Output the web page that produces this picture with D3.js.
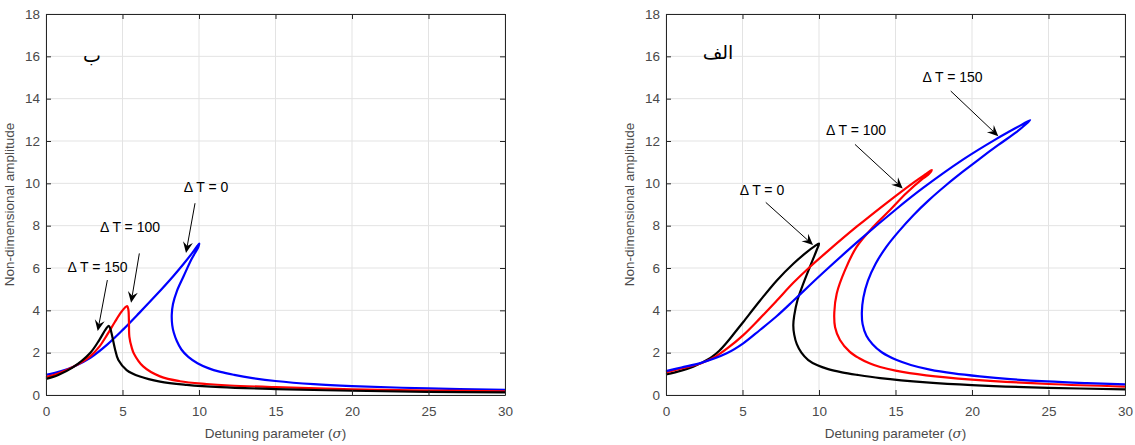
<!DOCTYPE html>
<html>
<head>
<meta charset="utf-8">
<script src="https://cdn.jsdelivr.net/npm/d3@7"></script>
<style>
  body { margin: 0; background: #fff; }
  svg { display: block; }
</style>
</head>
<body>
<script>
var width = 1135;
var height = 445;

var xTicks = [0, 5, 10, 15, 20, 25, 30];
var yTicks = [0, 2, 4, 6, 8, 10, 12, 14, 16, 18];

// panel "ب" (left) : [sigma, amplitude]
var leftDT0 = [[0,0.95],[1,1.13],[1.8,1.34],[2.9,1.76],[4.0,2.38],[5.05,3.1],[6.1,3.88],[7.2,4.72],[8.3,5.6],[9.0,6.2],[9.6,6.75],[9.9,7.05],[10.02,7.15],[9.95,6.98],[9.5,6.4],[9.0,5.62],[8.55,4.9],[8.3,4.3],[8.22,3.8],[8.25,3.3],[8.35,2.95],[8.55,2.55],[8.85,2.15],[9.3,1.8],[9.9,1.5],[10.6,1.27],[11.4,1.09],[12.3,0.95],[13.5,0.8],[15,0.66],[17.5,0.51],[20,0.42],[25,0.31],[30,0.24]];
var leftDT100 = [[0,0.85],[0.8,1.02],[1.7,1.3],[2.9,1.84],[3.5,2.3],[4.0,2.85],[4.5,3.45],[4.9,3.9],[5.15,4.12],[5.3,4.2],[5.38,4.05],[5.42,3.5],[5.45,2.75],[5.6,2.25],[5.75,1.95],[6.35,1.35],[7.45,0.88],[8.75,0.65],[10.5,0.52],[12,0.45],[15,0.37],[20,0.27],[25,0.21],[30,0.17]];
var leftDT150 = [[0,0.76],[0.8,0.95],[1.7,1.28],[2.9,2.0],[3.5,2.62],[3.9,3.1],[4.1,3.27],[4.2,3.15],[4.35,2.7],[4.5,2.2],[4.73,1.65],[5.27,1.18],[6.14,0.87],[7.45,0.63],[9.2,0.48],[11.4,0.37],[15,0.28],[20,0.2],[25,0.15],[30,0.12]];

// panel "الف" (right)
var rightDT0 = [[0,0.97],[1,1.15],[1.78,1.34],[2.35,1.53],[3,1.8],[3.5,2.1],[4,2.5],[4.5,2.95],[5.05,3.45],[6.14,4.45],[7.23,5.4],[8.32,6.2],[9.2,6.75],[9.7,7.02],[10,7.15],[9.85,6.85],[9.41,6.06],[8.98,5.27],[8.6,4.5],[8.38,3.75],[8.32,3.3],[8.38,2.85],[8.55,2.4],[8.85,2.0],[9.3,1.65],[9.9,1.4],[10.6,1.22],[11.5,1.07],[12.5,0.95],[14,0.8],[17,0.6],[20,0.47],[25,0.34],[30,0.27]];
var rightDT100 = [[0,1.07],[1,1.25],[2.3,1.5],[3.2,1.8],[4,2.2],[5.05,2.83],[6.14,3.62],[7.23,4.45],[8.32,5.3],[9.4,6.05],[10.5,6.75],[12.46,7.95],[14.64,9.2],[16.2,10.05],[17.0,10.45],[17.37,10.63],[17.2,10.45],[16.8,10.23],[15.7,9.53],[14.64,8.74],[13.55,7.95],[12.46,7.0],[11.7,5.9],[11.16,4.8],[11.0,3.9],[11.05,3.2],[11.37,2.6],[12.0,2.05],[12.6,1.75],[13.3,1.5],[14,1.32],[15,1.15],[17,0.93],[20,0.73],[25,0.52],[30,0.4]];
var rightDT150 = [[0,1.13],[1,1.3],[2.3,1.52],[3.97,1.97],[5.05,2.44],[6.14,3.07],[7.23,3.72],[8.32,4.45],[9.41,5.2],[10.5,5.93],[12.7,7.35],[15.08,8.8],[16.8,9.78],[19.43,11.13],[21.6,12.1],[23.2,12.75],[23.8,12.99],[23.5,12.78],[22.9,12.42],[21.7,11.8],[20.5,11.16],[19.4,10.55],[18.3,9.91],[17.2,9.22],[16.2,8.52],[15.2,7.72],[14.4,7.0],[13.7,6.2],[13.2,5.4],[12.9,4.6],[12.8,3.9],[12.85,3.35],[13.1,2.8],[13.5,2.4],[14.1,2.02],[15.08,1.65],[16,1.42],[17.25,1.2],[18.8,1.02],[20.5,0.88],[22.5,0.75],[24.9,0.64],[27.5,0.56],[30,0.5]];

// annotations: label, text point, arrow start, arrow tip (data units)
var leftNotes = [
  {label: "\u0394 T = 0",   at: [10.46, 9.83], from: [9.74, 9.06], to: [9.15, 6.71]},
  {label: "\u0394 T = 100", at: [5.49, 7.94],  from: [6.10, 6.69], to: [5.56, 4.36]},
  {label: "\u0394 T = 150", at: [3.37, 6.05],  from: [4.01, 5.43], to: [3.38, 3.02]}
];
var rightNotes = [
  {label: "\u0394 T = 0",   at: [6.27, 9.68],   from: [6.52, 9.10],   to: [9.61, 7.09]},
  {label: "\u0394 T = 100", at: [12.42, 12.52], from: [12.35, 11.84], to: [15.47, 9.76]},
  {label: "\u0394 T = 150", at: [18.73, 15.02], from: [18.61, 14.36], to: [21.72, 12.23]}
];

var panels = [
  {left: 46,  tag: "\u0628", tagAt: [3.0, 16.06],
   series: [{d: leftDT0, c: "#0000ff"}, {d: leftDT100, c: "#ff0000"}, {d: leftDT150, c: "#000000"}],
   notes: leftNotes},
  {left: 666, tag: "\u0627\u0644\u0641", tagAt: [3.4, 16.2],
   series: [{d: rightDT0, c: "#000000"}, {d: rightDT100, c: "#ff0000"}, {d: rightDT150, c: "#0000ff"}],
   notes: rightNotes}
];

var plotW = 459, plotH = 381, plotTop = 14;
var axisColor = "#262626";
var font = "Arial, 'Liberation Sans', Helvetica, sans-serif";

var svg = d3.select("body").append("svg")
  .attr("width", width)
  .attr("height", height);

panels.forEach(function(p) {
  var x = d3.scaleLinear().domain([0, 30]).range([0, plotW]);
  var y = d3.scaleLinear().domain([0, 18]).range([plotH, 0]);

  var g = svg.append("g").attr("transform", "translate(" + p.left + "," + plotTop + ")");

  // grid
  g.append("g").selectAll("line").data(xTicks).enter().append("line")
    .attr("x1", function(d) { return x(d); }).attr("x2", function(d) { return x(d); })
    .attr("y1", 0).attr("y2", plotH)
    .attr("stroke", "#e3e3e3").attr("stroke-width", 1);
  g.append("g").selectAll("line").data(yTicks).enter().append("line")
    .attr("y1", function(d) { return y(d); }).attr("y2", function(d) { return y(d); })
    .attr("x1", 0).attr("x2", plotW)
    .attr("stroke", "#e3e3e3").attr("stroke-width", 1);

  // curves
  var line = d3.line()
    .x(function(d) { return x(d[0]); })
    .y(function(d) { return y(d[1]); })
    .curve(d3.curveCatmullRom.alpha(0.5));

  g.append("g").selectAll("path").data(p.series).enter().append("path")
    .attr("d", function(s) { return line(s.d); })
    .attr("fill", "none")
    .attr("stroke", function(s) { return s.c; })
    .attr("stroke-width", 2.2)
    .attr("stroke-linejoin", "round");

  // axes (box with inward ticks)
  var xAxis = g.append("g").attr("transform", "translate(0," + plotH + ")")
    .call(d3.axisBottom(x).tickValues(xTicks).tickSize(-5).tickSizeOuter(0).tickPadding(11));
  var yAxis = g.append("g")
    .call(d3.axisLeft(y).tickValues(yTicks).tickSize(-5).tickSizeOuter(0).tickPadding(6));
  var tAxis = g.append("g")
    .call(d3.axisTop(x).tickValues(xTicks).tickSize(-5).tickSizeOuter(0).tickFormat(""));
  var rAxis = g.append("g").attr("transform", "translate(" + plotW + ",0)")
    .call(d3.axisRight(y).tickValues(yTicks).tickSize(-5).tickSizeOuter(0).tickFormat(""));

  [xAxis, yAxis, tAxis, rAxis].forEach(function(a) {
    a.selectAll("path.domain").attr("stroke", axisColor);
    a.selectAll(".tick line").attr("stroke", axisColor);
    a.selectAll(".tick text").attr("fill", "#4a4a4a")
      .style("font-family", font).style("font-size", "13.5px");
  });

  // axis labels
  var xl = g.append("text")
    .attr("x", plotW / 2).attr("y", plotH + 43)
    .attr("text-anchor", "middle")
    .attr("fill", "#4a4a4a")
    .style("font-family", font).style("font-size", "13.5px");
  xl.append("tspan").text("Detuning parameter (");
  xl.append("tspan").attr("font-style", "italic").attr("font-family", "'DejaVu Serif', serif").text("\u03c3");
  xl.append("tspan").text(")");

  g.append("text")
    .attr("transform", "translate(" + (-32) + "," + (plotH / 2) + ") rotate(-90)")
    .attr("text-anchor", "middle")
    .attr("fill", "#4a4a4a")
    .style("font-family", font).style("font-size", "13.5px")
    .text("Non-dimensional amplitude");

  // panel tag
  g.append("text")
    .attr("x", x(p.tagAt[0])).attr("y", y(p.tagAt[1]))
    .attr("dy", "0.35em")
    .attr("text-anchor", "middle")
    .attr("fill", "#000")
    .style("font-family", "'DejaVu Sans', 'Noto Sans', sans-serif")
    .style("font-size", "19px")
    .text(p.tag);

  // annotations with arrows
  p.notes.forEach(function(n) {
    var x0 = x(n.from[0]), y0 = y(n.from[1]);
    var x1 = x(n.to[0]), y1 = y(n.to[1]);
    var ang = Math.atan2(y1 - y0, x1 - x0);
    var len = 11, hw = 5, notch = 7;
    var ca = Math.cos(ang), sa = Math.sin(ang);
    var bx = x1 - len * ca, by = y1 - len * sa;
    var nx = x1 - notch * ca, ny = y1 - notch * sa;

    g.append("line")
      .attr("x1", x0).attr("y1", y0).attr("x2", nx).attr("y2", ny)
      .attr("stroke", "#000").attr("stroke-width", 1);

    var head = [
      [x1, y1],
      [bx - hw * sa, by + hw * ca],
      [nx, ny],
      [bx + hw * sa, by - hw * ca]
    ];
    g.append("path")
      .attr("d", "M" + head.join("L") + "Z")
      .attr("fill", "#000");

    g.append("text")
      .attr("x", x(n.at[0])).attr("y", y(n.at[1]))
      .attr("dy", "0.35em")
      .attr("text-anchor", "middle")
      .attr("fill", "#000")
      .style("font-family", font).style("font-size", "14px")
      .text(n.label);
  });
});
</script>
</body>
</html>
